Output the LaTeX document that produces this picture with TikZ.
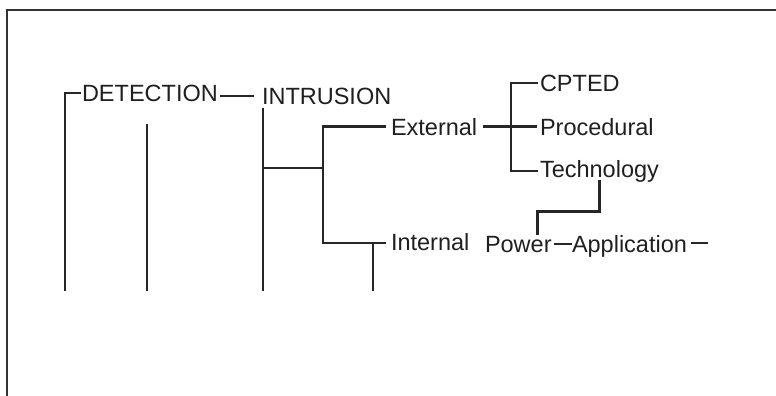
\documentclass[tikz,border=0pt]{standalone}
\usepackage{fontspec}
\setmainfont{Liberation Sans}
\usetikzlibrary{positioning}

\begin{document}
\begin{tikzpicture}[
    x=1pt, y=-1pt,
    term/.style={
      anchor=base west, inner sep=0pt, outer sep=0pt,
      text=black!88, font=\fontsize{23.5}{28}\selectfont
    },
    branch/.style={
      draw=black!85, line width=2.8pt, line cap=rect
    },
    frame/.style={
      draw=black!80, line width=2pt
    }
  ]

    \useasboundingbox (0,0) rectangle (776,396);

    % Frame (top and left edge)
    \draw[frame] (7,396) -- (7,10) -- (776,10);

    % Terms
    \node[term] (det)   at (82,101)  {DETECTION};
    \node[term] (intr)  at (262,104) {INTRUSION};
    \node[term] (ext)   at (391,135) {External};
    \node[term] (int)   at (391,250) {Internal};
    \node[term] (cpted) at (540,91)  {CPTED};
    \node[term] (proc)  at (540,135) {Procedural};
    \node[term] (tech)  at (540,177) {Technology};
    \node[term] (pow)   at (485,252) {Power};
    \node[term] (app)   at (572,252) {Application};

    % Junctions and free ends
    \coordinate (detfoot)  at (65,290);
    \coordinate (midtop)   at (147,125);
    \coordinate (midfoot)  at (147,290);
    \coordinate (intrfoot) at (263,290);
    \coordinate (intrjoin) at (263,168);
    \coordinate (splitT)   at (323,127);
    \coordinate (splitB)   at (323,243);
    \coordinate (inttap)   at (373,243);
    \coordinate (intfoot)  at (373,290);
    \coordinate (brk)      at (511,0);
    \coordinate (apptail)  at (707,243);

    % Left side
    \draw[branch] (detfoot) |- ([xshift=-2pt]det.west);
    \draw[branch] (midtop) -- (midfoot);
    \draw[branch] ([xshift=4pt]det.east |- intr.west) -- ([xshift=-9pt]intr.west);

    % INTRUSION -> External / Internal
    \draw[branch] ([xshift=1pt,yshift=-5pt]intr.south west) -- (intrfoot);
    \draw[branch] (intrjoin) -- (intrjoin -| splitT);
    \draw[branch] ([xshift=-6pt]ext.west -| ext.west) -| (splitB) -- ([xshift=-6pt]splitB -| int.west);
    \draw[branch] (inttap) -- (intfoot);

    % External -> CPTED / Procedural / Technology
    \draw[branch] ([xshift=7pt]ext.east) -- ([xshift=-4pt]proc.west);
    \draw[branch] ([xshift=-3pt]cpted.west) -| (brk |- tech.west) -- ([xshift=-3pt]tech.west);

    % Technology -> Power -> Application
    \draw[branch] (tech.south) -- ++(0,30) -| ([xshift=-14pt,yshift=2pt]pow.north east);
    \draw[branch] ([xshift=4pt]pow.east) -- ([xshift=-1pt]pow.east -| app.west);
    \draw[branch] ([xshift=5pt]app.east |- apptail) -- (apptail);

  \end{tikzpicture}
\end{document}
